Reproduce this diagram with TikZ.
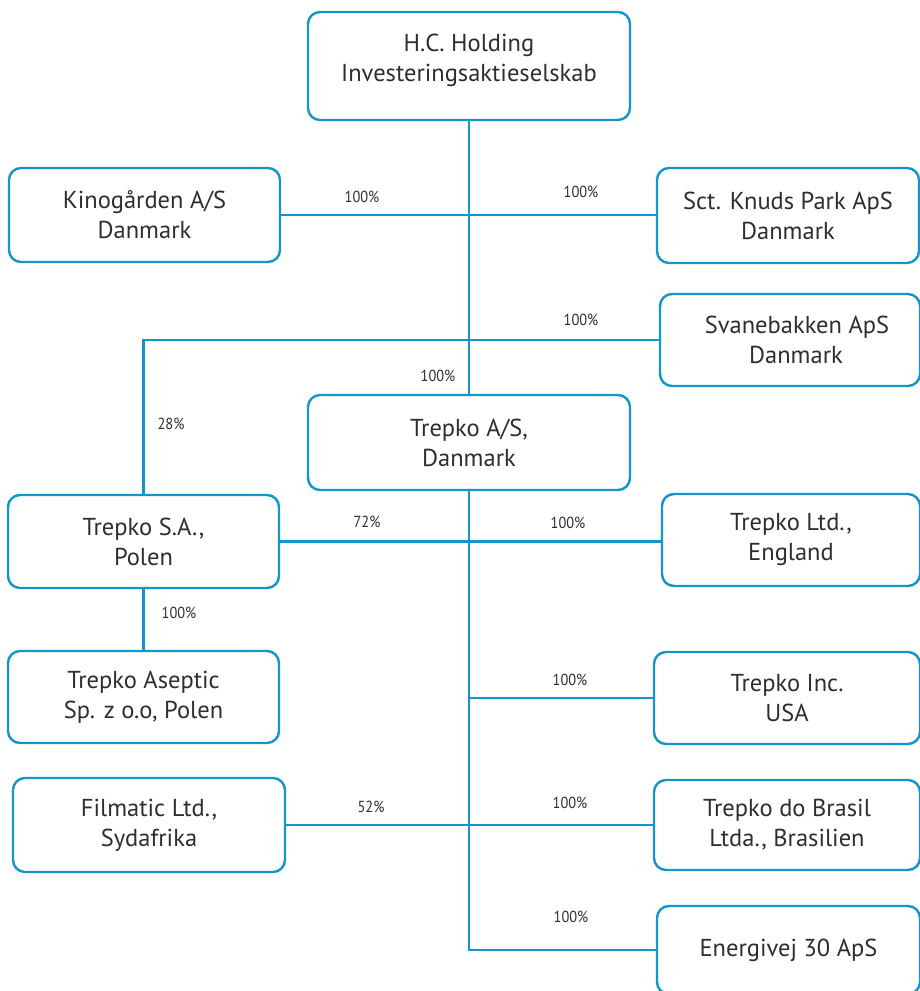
\documentclass[tikz,border=0pt]{standalone}
\usepackage{fontspec}
\setmainfont{PT Sans}
\newfontfamily\pctfont{PT Sans}[FakeStretch=0.9]
\definecolor{tblue}{HTML}{1496CD}
\definecolor{ttext}{HTML}{2E2E2E}
\begin{document}
\begin{tikzpicture}[x=1pt,y=-1pt,
  orgbox/.style={draw=tblue, line width=2.4pt, rounded corners=12pt, fill=white,
    align=center, inner sep=0pt, text=ttext, font=\fontsize{24.5}{30}\selectfont},
  link/.style={draw=tblue, line width=2.5pt},
  pct/.style={text=ttext, inner sep=0pt, font=\pctfont\fontsize{16}{16}\selectfont}]
\useasboundingbox (0,0) rectangle (920,991);
\node[orgbox, minimum width=322pt, minimum height=108pt] (hc) at (469,66) {H.C. Holding\\Investeringsaktieselskab\\[-14pt]\mbox{}};
\node[orgbox, minimum width=271pt, minimum height=94pt] (kino) at (144.5,215) {Kinogården A/S\\Danmark};
\node[orgbox, minimum width=262pt, minimum height=95pt] (sct) at (788,215.5) {Sct. Knuds Park ApS\\Danmark};
\node[orgbox, minimum width=260pt, minimum height=92pt] (svane) at (790,340) {\hspace*{14pt}Svanebakken ApS\\\hspace*{12pt}Danmark};
\node[orgbox, minimum width=322pt, minimum height=95pt] (tas) at (469,442.5) {Trepko A/S,\\Danmark};
\node[orgbox, minimum width=271pt, minimum height=93pt] (tsa) at (143.5,541.5) {Trepko S.A.,\\Polen};
\node[orgbox, minimum width=258pt, minimum height=92pt] (tltd) at (791,540) {Trepko Ltd.,\\England};
\node[orgbox, minimum width=271pt, minimum height=92pt] (asep) at (143.5,697) {Trepko Aseptic\\Sp. z o.o, Polen};
\node[orgbox, minimum width=266pt, minimum height=92pt] (inc) at (787,698) {Trepko Inc.\\USA};
\node[orgbox, minimum width=272pt, minimum height=94pt] (film) at (149,825) {Filmatic Ltd.,\\Sydafrika};
\node[orgbox, minimum width=266pt, minimum height=90pt] (brasil) at (787,825) {Trepko do Brasil\\Ltda., Brasilien};
\node[orgbox, minimum width=263pt, minimum height=88pt] (energi) at (788.5,950) {Energivej 30 ApS};
% connectors
\draw[link] (hc.south) -- (tas.north);
\draw[link] (kino.east) -- (kino.east -| sct.west);
\draw[link] (svane.west) -| (tsa.north);
\draw[link] (tsa.east) -- (tsa.east -| tltd.west);
\draw[link] (tsa.south) -- (asep.north);
\draw[link] (tas.south) |- (energi.west);
\draw[link] (inc.west) -- (inc.west -| tas.south);
\draw[link] (film.east) -- (brasil.west);
% percentages
\node[pct] (p1) at (362,197) {100\%};
\node[pct] (p2) at (581,192) {100\%};
\node[pct] (p3) at (581,320) {100\%};
\node[pct] (p4) at (438,376) {100\%};
\node[pct] (p5) at (171,424) {28\%};
\node[pct] (p6) at (367,522) {72\%};
\node[pct] (p7) at (568,523) {100\%};
\node[pct] (p8) at (179,613) {100\%};
\node[pct] (p9) at (570,680) {100\%};
\node[pct] (p10) at (371,807) {52\%};
\node[pct] (p11) at (570,803) {100\%};
\node[pct] (p12) at (571,917) {100\%};
\end{tikzpicture}
\end{document}
